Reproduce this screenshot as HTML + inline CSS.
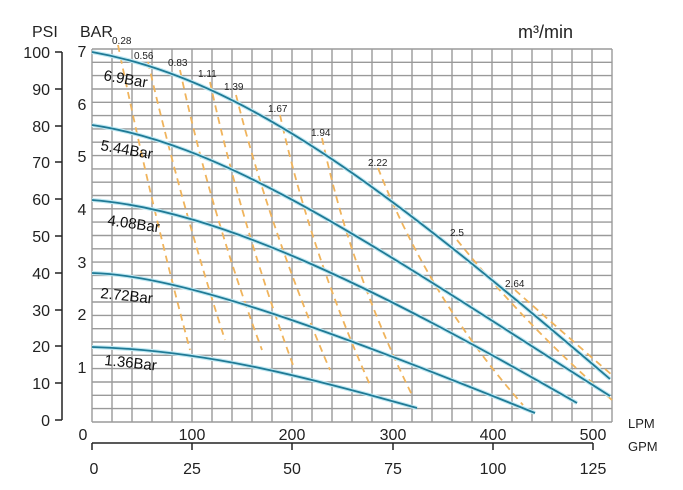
<!DOCTYPE html>
<html><head><meta charset="utf-8"><style>
body{margin:0;background:#fff}
svg{display:block;font-family:"Liberation Sans",sans-serif}
</style></head><body>
<svg width="683" height="490" viewBox="0 0 683 490" xmlns="http://www.w3.org/2000/svg">
<rect width="683" height="490" fill="#fff"/>
<g stroke="#9a9a9a" stroke-width="1.4">
<line x1="92" y1="49" x2="92" y2="422"/><line x1="112" y1="49" x2="112" y2="422"/><line x1="132" y1="49" x2="132" y2="422"/><line x1="152" y1="49" x2="152" y2="422"/><line x1="172" y1="49" x2="172" y2="422"/><line x1="192" y1="49" x2="192" y2="422"/><line x1="212" y1="49" x2="212" y2="422"/><line x1="232" y1="49" x2="232" y2="422"/><line x1="252" y1="49" x2="252" y2="422"/><line x1="272" y1="49" x2="272" y2="422"/><line x1="292" y1="49" x2="292" y2="422"/><line x1="312" y1="49" x2="312" y2="422"/><line x1="332" y1="49" x2="332" y2="422"/><line x1="352" y1="49" x2="352" y2="422"/><line x1="372" y1="49" x2="372" y2="422"/><line x1="392" y1="49" x2="392" y2="422"/><line x1="412" y1="49" x2="412" y2="422"/><line x1="432" y1="49" x2="432" y2="422"/><line x1="452" y1="49" x2="452" y2="422"/><line x1="472" y1="49" x2="472" y2="422"/><line x1="492" y1="49" x2="492" y2="422"/><line x1="512" y1="49" x2="512" y2="422"/><line x1="532" y1="49" x2="532" y2="422"/><line x1="552" y1="49" x2="552" y2="422"/><line x1="572" y1="49" x2="572" y2="422"/><line x1="592" y1="49" x2="592" y2="422"/><line x1="612" y1="49" x2="612" y2="422"/>
<path d="M92 49H612M92 62.3H612M92 75.6H612M92 89H612M92 102.3H612M92 115.6H612M92 128.9H612M92 142.2H612M92 155.6H612M92 168.9H612M92 182.2H612M92 195.5H612M92 208.8H612M92 222.1H612M92 235.5H612M92 248.8H612M92 262.1H612M92 275.4H612M92 288.7H612M92 302H612M92 315.4H612M92 328.7H612M92 342H612M92 355.3H612M92 368.6H612M92 382H612M92 395.3H612M92 408.6H612M92 422H612"/>
</g>
<g stroke="#f0b45c" stroke-width="1.8" stroke-dasharray="7,5" fill="none">
<path d="M118 45Q150 200 190 350"/>
<path d="M148 62Q180 200 225 340"/>
<path d="M180 70Q210 210 262 350"/>
<path d="M210 82Q240 220 293 365"/>
<path d="M236 95Q270 230 330 370"/>
<path d="M280 115Q310 250 370 385"/>
<path d="M322 138Q350 270 413 397"/>
<path d="M378 168Q430 300 523 405"/>
<path d="M457 240Q530 330 612 400"/>
<path d="M515 290Q560 330 612 375"/>
</g>
<g fill="none">
<g stroke="#bfe8f2" stroke-width="4">
<path d="M92 52C250 80 400 200 610 379"/>
<path d="M92 125C230 145 380 250 610 396"/>
<path d="M92 200C220 210 380 290 577 403"/>
<path d="M92 273C180 275 330 330 535 413"/>
<path d="M92 347C200 350 300 375 417 408"/>
</g>
<g stroke="#1f7a96" stroke-width="1.8">
<path d="M92 52C250 80 400 200 610 379"/>
<path d="M92 125C230 145 380 250 610 396"/>
<path d="M92 200C220 210 380 290 577 403"/>
<path d="M92 273C180 275 330 330 535 413"/>
<path d="M92 347C200 350 300 375 417 408"/>
</g>
</g>
<g font-size="10" fill="#222">
<text x="112" y="44">0.28</text><text x="134" y="59">0.56</text><text x="168" y="66">0.83</text><text x="198" y="77">1.11</text><text x="224" y="90">1.39</text><text x="268" y="112">1.67</text><text x="311" y="136">1.94</text><text x="368" y="166">2.22</text><text x="450" y="236">2.5</text><text x="505" y="287">2.64</text>
</g>
<g font-size="15" fill="#111">
<text x="103" y="80" transform="rotate(10 103 80)">6.9Bar</text>
<text x="100" y="150" transform="rotate(10 100 150)">5.44Bar</text>
<text x="107" y="225" transform="rotate(8 107 225)">4.08Bar</text>
<text x="100" y="298" transform="rotate(6 100 298)">2.72Bar</text>
<text x="104" y="365" transform="rotate(6 104 365)">1.36Bar</text>
</g>
<g stroke="#222" stroke-width="1.5">
<line x1="62" y1="52" x2="62" y2="420"/>
<path d="M55 52H62M55 89H62M55 126H62M55 162H62M55 199H62M55 236H62M55 273H62M55 310H62M55 346H62M55 383H62M55 420H62"/>
<line x1="92" y1="443" x2="593" y2="443"/>
<path d="M92 443V450M192 443V450M292 443V450M393 443V450M493 443V450M593 443V450"/>
</g>
<g font-size="16" fill="#222" text-anchor="end">
<text x="50" y="58">100</text><text x="50" y="95">90</text><text x="50" y="132">80</text><text x="50" y="168">70</text><text x="50" y="205">60</text><text x="50" y="242">50</text><text x="50" y="279">40</text><text x="50" y="316">30</text><text x="50" y="352">20</text><text x="50" y="389">10</text><text x="50" y="426">0</text>
</g>
<g font-size="16" fill="#222" text-anchor="middle">
<text x="82" y="57">7</text><text x="82" y="110">6</text><text x="82" y="162">5</text><text x="82" y="215">4</text><text x="82" y="268">3</text><text x="82" y="320">2</text><text x="82" y="373">1</text>
<text x="83" y="440">0</text><text x="192" y="440">100</text><text x="292" y="440">200</text><text x="393" y="440">300</text><text x="493" y="440">400</text><text x="593" y="440">500</text>
<text x="94" y="474">0</text><text x="192" y="474">25</text><text x="292" y="474">50</text><text x="393" y="474">75</text><text x="493" y="474">100</text><text x="593" y="474">125</text>
</g>
<g font-size="16" fill="#222">
<text x="32" y="37">PSI</text><text x="80" y="37">BAR</text>
</g>
<text x="518" y="38" font-size="18" fill="#222">m³/min</text>
<g font-size="13" fill="#222"><text x="628" y="428">LPM</text><text x="628" y="451">GPM</text></g>
</svg>
</body></html>
